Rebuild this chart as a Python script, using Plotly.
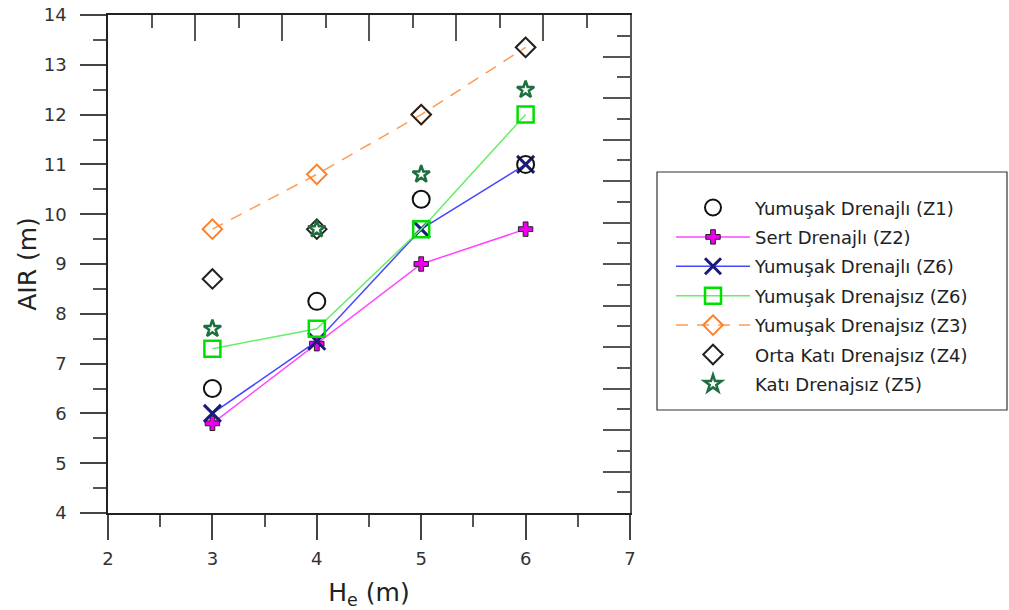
import plotly.graph_objects as go

he = [3, 4, 5, 6]
z1_yumusak_drenajli = [6.5, 8.25, 10.3, 11.0]
z2_sert_drenajli = [5.8, 7.4, 9.0, 9.7]
z6_yumusak_drenajli = [6.0, 7.45, 9.7, 11.0]
z6_yumusak_drenajsiz = [7.3, 7.7, 9.7, 12.0]
z3_yumusak_drenajsiz = [9.7, 10.8, 12.0, 13.35]
z4_orta_kati = [8.7, 9.7, 12.0, 13.35]
z5_kati = [7.7, 9.7, 10.8, 12.5]

names = ["Yumuşak Drenajlı (Z1)", "Sert Drenajlı (Z2)", "Yumuşak Drenajlı (Z6)",
         "Yumuşak Drenajsız (Z6)", "Yumuşak Drenajsız (Z3)", "Orta Katı Drenajsız (Z4)",
         "Katı Drenajsız (Z5)"]

FONT = "DejaVu Sans, Liberation Sans, Arial, sans-serif"
fig = go.Figure()

fig.add_trace(go.Scatter(x=he, y=z3_yumusak_drenajsiz, name=names[4], mode="lines+markers",
                         line=dict(color="#ff9a55", width=1.5, dash="12px,9px"),
                         marker=dict(symbol="diamond-open", size=15, color="#ff7f27",
                                     line=dict(width=2, color="#ff7f27")),
                         legendrank=5, legendgroup="g5"))
fig.add_trace(go.Scatter(x=he, y=z4_orta_kati, name=names[5], mode="markers",
                         marker=dict(symbol="diamond-open", size=15, color="#222222",
                                     line=dict(width=2, color="#222222")),
                         legendrank=6, legendgroup="g6"))
fig.add_trace(go.Scatter(x=he, y=z2_sert_drenajli, name=names[1], mode="lines+markers",
                         line=dict(color="#ff44ff", width=1.5),
                         marker=dict(symbol="cross", size=12, color="#ee00ee",
                                     line=dict(width=1, color="#222222")),
                         legendrank=2, legendgroup="g2"))
fig.add_trace(go.Scatter(x=he, y=z6_yumusak_drenajli, name=names[2], mode="lines+markers",
                         line=dict(color="#4646ff", width=1.5),
                         marker=dict(symbol="x-thin-open", size=17, color="#1a1a7a",
                                     line=dict(width=3, color="#1a1a7a")),
                         legendrank=3, legendgroup="g3"))
fig.add_trace(go.Scatter(x=he, y=z6_yumusak_drenajsiz, name=names[3], mode="lines+markers",
                         line=dict(color="#66ee66", width=1.5),
                         marker=dict(symbol="square-open", size=16, color="#00e000",
                                     line=dict(width=2.5, color="#00e000")),
                         legendrank=4, legendgroup="g4"))
fig.add_trace(go.Scatter(x=he, y=z1_yumusak_drenajli, name=names[0], mode="markers",
                         marker=dict(symbol="circle-open", size=17, color="#111111",
                                     line=dict(width=2, color="#111111")),
                         legendrank=1, legendgroup="g1"))
fig.add_trace(go.Scatter(x=he, y=z5_kati, name=names[6], mode="markers",
                         marker=dict(symbol="star-open", size=13, color="#1e6e40",
                                     line=dict(width=2.5, color="#1e6e40")),
                         legendrank=7, legendgroup="g7"))
# dummy trace to keep the top/right frame axes drawn
fig.add_trace(go.Scatter(x=[None], y=[None], xaxis="x2", yaxis="y2", showlegend=False,
                         hoverinfo="skip"))

tickfont = dict(family=FONT, size=18, color="#333333")
fig.update_layout(
    width=1009, height=610,
    margin=dict(l=108, r=379, t=15, b=97, autoexpand=False),
    paper_bgcolor="white", plot_bgcolor="white",
    showlegend=True,
    legend=dict(x=(671 - 108) / 522, y=0.650, xanchor="left", yanchor="top",
                bgcolor="rgba(0,0,0,0)", borderwidth=0,
                font=dict(family=FONT, size=18, color="#222222"),
                traceorder="grouped", tracegroupgap=3, itemwidth=74),
    xaxis=dict(range=[2, 7], dtick=1, tick0=2, ticks="outside", ticklen=25, tickwidth=1.5,
               tickcolor="#444444", showline=True, linecolor="#222222", linewidth=1.5,
               showgrid=False, zeroline=False, tickfont=tickfont, ticklabelstandoff=4,
               automargin=False,
               minor=dict(dtick=0.5, ticks="outside", ticklen=12, tickwidth=1.5,
                          tickcolor="#555555", showgrid=False),
               title=dict(text="H<sub>e</sub> (m)", font=dict(family=FONT, size=25, color="#222222"),
                          standoff=16)),
    yaxis=dict(range=[4, 14], dtick=1, tick0=4, ticks="outside", ticklen=26, tickwidth=1.5,
               tickcolor="#444444", showline=True, linecolor="#222222", linewidth=1.5,
               showgrid=False, zeroline=False, tickfont=tickfont, ticklabelstandoff=10,
               automargin=False,
               minor=dict(dtick=0.5, ticks="outside", ticklen=13, tickwidth=1.5,
                          tickcolor="#555555", showgrid=False),
               title=dict(text="AIR (m)", font=dict(family=FONT, size=25, color="#222222"),
                          standoff=0)),
    xaxis2=dict(overlaying="x", side="top", range=[0, 12], dtick=2, tick0=0, ticks="inside",
                ticklen=26, tickwidth=1.5, tickcolor="#555555", showticklabels=False,
                showline=True, linecolor="#222222", linewidth=1.5, showgrid=False, zeroline=False,
                automargin=False,
                minor=dict(dtick=1, ticks="inside", ticklen=13, tickwidth=1.5,
                           tickcolor="#555555", showgrid=False)),
    yaxis2=dict(overlaying="y", side="right", range=[0, 24], dtick=2, tick0=0, ticks="inside",
                ticklen=27, tickwidth=1.5, tickcolor="#555555", showticklabels=False,
                showline=True, linecolor="#555555", linewidth=2, showgrid=False, zeroline=False,
                automargin=False,
                minor=dict(dtick=1, ticks="inside", ticklen=13, tickwidth=1.5,
                           tickcolor="#555555", showgrid=False)),
    shapes=[dict(type="rect", xref="paper", yref="paper",
                 x0=(657 - 108) / 522, x1=(1007 - 108) / 522,
                 y0=(513 - 410) / 498, y1=(513 - 172) / 498,
                 line=dict(color="#333333", width=1.2), fillcolor="rgba(0,0,0,0)")],
)

fig.write_html("out.html")
